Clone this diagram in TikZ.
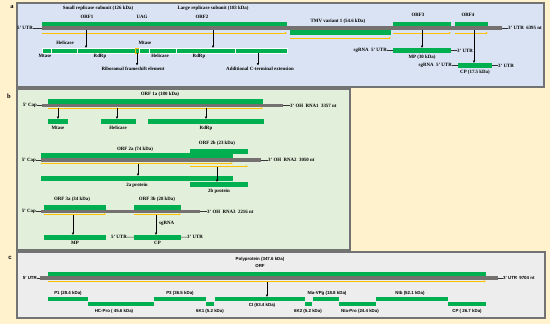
\documentclass[tikz,border=0pt]{standalone}
\usepackage{fontspec}
\setmainfont{Liberation Serif}
\setsansfont{Liberation Sans}
\usepackage{tikz}
\usetikzlibrary{arrows.meta,positioning}
\definecolor{cream}{HTML}{FFF2CC}
\definecolor{panelA}{HTML}{DAE3F3}
\definecolor{panelB}{HTML}{E2EFDA}
\definecolor{panelC}{HTML}{EDEDED}
\definecolor{vgreen}{HTML}{00B050}
\definecolor{ggray}{HTML}{767171}
\definecolor{orfyellow}{HTML}{FFC000}

\begin{document}
\begin{tikzpicture}[x=1pt, y=-1pt,
        panel/.style={draw=black!55, line width=1.2pt},
        gbar/.style={fill=vgreen, inner sep=0pt, outer sep=0pt, anchor=north west},
        seg/.style={gbar, draw=white, line width=0.4pt},
        gen/.style={fill=ggray, inner sep=0pt, outer sep=0pt, anchor=north west},
        wh/.style 2 args={minimum width=#1pt, minimum height=#2pt},
        orf/.style={draw=orfyellow, line width=0.8pt, -{Latex[length=2pt,width=2pt]}},
        arr/.style={-{Latex[length=2.5pt,width=2.5pt]}, line width=0.8pt},
        lead/.style={line width=0.5pt, black!80},
        lbl/.style={inner sep=0pt, font=\fontsize{4.9}{5.5}\selectfont\bfseries},
        lblc/.style={inner sep=0pt, font=\fontsize{4.4}{5}\selectfont\sffamily\bfseries},
        tag/.style={inner sep=0pt, font=\fontsize{6.5}{7}\selectfont\bfseries}]
        \useasboundingbox (0,0) rectangle (550,324);
        \fill[cream] (0,0) rectangle (550,324);
        \draw[panel, fill=panelA] (17,3) rectangle (544,87);
        \draw[panel, fill=panelB] (17,89) rectangle (350,250);
        \draw[panel, fill=panelC] (17,252) rectangle (545,318);
        \node[tag] (pa) at (12,7) {a};
        \node[tag] (pb) at (9,96) {b};
        \node[tag, font=\fontsize{6}{7}\selectfont\sffamily\bfseries] (pc) at (10,258) {c};

        % panel a
        \node[lbl] (small) at (98,8) {Small replicase subunit (126 kDa)};
        \node[lbl] (large) at (213,8) {Large replicase subunit (183 kDa)};
        \node[lbl] (orf1l) at (87,17) {ORF1};
        \node[lbl] (uag) at (142,17) {UAG};
        \node[lbl] (orf2l) at (202,17) {ORF2};
        \node[gen, wh={460}{4}] (gA) at (42,26) {};
        \node[gbar, wh={245}{4}] (orf12) at (42,22) {};
        \node[gbar, wh={101}{5}] (tmv) at (290,30) {};
        \node[lbl] (tmvl) at (338,21) {TMV variant 1 (54.6 kDa)};
        \node[gbar, wh={58}{4}] (orf3) at (393,22) {};
        \node[lbl] (orf3l) at (418,15) {ORF3};
        \node[gbar, wh={33}{4}] (orf4) at (455,22) {};
        \node[lbl] (orf4l) at (468,15) {ORF4};
        \draw[orf] ([yshift=-7pt]orf12.south west) -- ([yshift=-7pt]orf12.south east);
        \draw[orf] ([yshift=-3pt]tmv.south west) -- ([yshift=-3pt]tmv.south east);
        \draw[orf] ([yshift=-7pt]orf3.south west) -- ([yshift=-7pt]orf3.south east);
        \draw[orf] ([yshift=-7pt]orf4.south west) -- ([yshift=-7pt]orf4.south east);
        \node[lbl, anchor=east] (u5A) at (33,28) {5' UTR};
        \node[lbl, anchor=west] (u3A) at (508,28) {3' UTR\enspace 6395 nt};
        \draw[lead] (u5A) -- (gA.west);
        \draw[lead] (gA.east) -- (u3A);

        \node[seg, wh={9}{5}] (mtA1) at (42,48) {};
        \node[seg, wh={26}{5}, right=0pt of mtA1] (helA1) {};
        \node[seg, wh={58}{5}, right=0pt of helA1] (rdA1) {};
        \node[gbar, draw=orfyellow, line width=0.5pt, wh={4}{5}, right=0pt of rdA1] (fsA) {};
        \node[seg, wh={10}{5}, right=0pt of fsA] (mtA2) {};
        \node[seg, wh={27}{5}, right=0pt of mtA2] (helA2) {};
        \node[seg, wh={59}{5}, right=0pt of helA2] (rdA2) {};
        \node[seg, wh={52}{5}, right=0pt of rdA2] (extA) {};
        \node[lbl] (mtA1l) at (45,56) {Mtase};
        \node[lbl] (helA1l) at (65,43) {Helicase};
        \node[lbl] (rdA1l) at (100,56) {RdRp};
        \node[lbl] (mtA2l) at (145,43) {Mtase};
        \node[lbl] (helA2l) at (160,56) {Helicase};
        \node[lbl] (rdA2l) at (199,56) {RdRp};
        \node[lbl] (fsl) at (133,69) {Ribosomal frameshift element};
        \node[lbl] (extl) at (260,69) {Additional C-terminal extension};
        \coordinate (a1) at (86,30);
        \coordinate (a2) at (213,30);
        \coordinate (a4) at (258,53);
        \draw[arr] (a1) -- (a1 |- rdA1.north);
        \draw[arr] (a2) -- (a2 |- rdA2.north);
        \draw[arr, shorten >=1.5pt] (fsA.south) -- (fsA.south |- fsl.north);
        \draw[arr, shorten >=1.5pt] (a4) -- (a4 |- extl.north);

        \node[gbar, wh={58}{5}] (mpA) at (393,48) {};
        \node[lbl, anchor=east] (sgA1) at (387,50.5) {sgRNA\enspace 5' UTR};
        \node[lbl, anchor=west] (u3A1) at (457,50.5) {3' UTR};
        \node[lbl, below=1.8pt of mpA] (mpAl) {MP (30 kDa)};
        \draw[lead] (sgA1) -- (mpA.west);
        \draw[lead] (mpA.east) -- (u3A1);
        \node[gbar, wh={34}{5}] (cpA) at (458,63) {};
        \node[lbl, anchor=east] (sgA2) at (452,65.5) {sgRNA\enspace 5' UTR};
        \node[lbl, anchor=west] (u3A2) at (498,65.5) {3' UTR};
        \node[lbl, below=1.8pt of cpA] (cpAl) {CP (17.5 kDa)};
        \draw[lead] (sgA2) -- (cpA.west);
        \draw[lead] (cpA.east) -- (u3A2);
        \coordinate (a5) at (422,30);
        \coordinate (a6) at (474,30);
        \draw[arr] (a5) -- (a5 |- mpA.north);
        \draw[arr] (a6) -- (a6 |- cpA.north);

        % panel b, RNA1
        \node[gen, wh={241}{3}] (gB1) at (42,104) {};
        \node[gbar, wh={215}{5}] (orf1a) at (48,99) {};
        \node[lbl] (orf1al) at (160,94) {ORF 1a (180 kDa)};
        \draw[orf] ([yshift=-1.2pt]gB1.south west -| orf1a.west) -- ([yshift=-1.2pt]gB1.south west -| orf1a.east);
        \node[lbl, anchor=east] (capB1) at (37,105.5) {5' Cap};
        \node[lbl, anchor=west] (ohB1) at (290,105.5) {3' OH\enspace RNA1\enspace 3357 nt};
        \draw[lead] (capB1) -- (gB1.west);
        \draw[lead] (gB1.east) -- (ohB1);
        \node[gbar, wh={20}{5}] (mtB) at (48,119) {};
        \node[gbar, wh={35}{5}] (helB) at (101,119) {};
        \node[gbar, wh={116}{5}] (rdB) at (148,119) {};
        \node[lbl] (mtBl) at (58,128) {Mtase};
        \node[lbl] (helBl) at (118,128) {Helicase};
        \node[lbl] (rdBl) at (206,128) {RdRp};
        \foreach \x/\t in {58/mtB, 117/helB, 206/rdB}
          \draw[arr] (\x,108) -- (\x,108 |- \t.north);

        % panel b, RNA2
        \node[gen, wh={220}{4}] (gB2) at (41,158) {};
        \node[gbar, wh={192}{5}] (orf2a) at (41,153) {};
        \node[gbar, wh={58}{5}] (orf2b) at (190,149) {};
        \node[lbl] (orf2al) at (135,149) {ORF 2a (74 kDa)};
        \node[lbl] (orf2bl) at (217,143) {ORF 2b (23 kDa)};
        \draw[orf] ([yshift=-1.2pt]gB2.south west) -- ([yshift=-1.2pt]gB2.south west -| orf2a.east);
        \draw[orf] ([yshift=-4.2pt]gB2.south west -| orf2b.west) -- ([yshift=-4.2pt]gB2.south west -| orf2b.east);
        \node[lbl, anchor=east] (capB2) at (36,160) {5' Cap};
        \node[lbl, anchor=west] (ohB2) at (268,160) {3' OH\enspace RNA2\enspace 3050 nt};
        \draw[lead] (capB2) -- (gB2.west);
        \draw[lead] (gB2.east) -- (ohB2);
        \node[gbar, wh={192}{5}] (p2a) at (41,176) {};
        \node[gbar, wh={58}{4.5}] (p2b) at (190,182) {};
        \node[lbl, below=2pt of p2a] (p2al) {2a protein};
        \node[lbl, below=2pt of p2b] (p2bl) {2b protein};
        \coordinate (b1) at (138,163.5);
        \coordinate (b2) at (217,166.5);
        \draw[arr] (b1) -- (b1 |- p2a.north);
        \draw[arr] (b2) -- (b2 |- p2b.north);

        % panel b, RNA3
        \node[gen, wh={159}{3}] (gB3) at (41,210) {};
        \node[gbar, wh={62}{5}] (orf3a) at (44,205) {};
        \node[gbar, wh={47}{5}] (orf3b) at (134,205) {};
        \node[lbl] (orf3al) at (72,199) {ORF 3a (34 kDa)};
        \node[lbl] (orf3bl) at (157,199) {ORF 3b (28 kDa)};
        \draw[orf] ([yshift=-1.2pt]gB3.south west -| orf3a.west) -- ([yshift=-1.2pt]gB3.south west -| orf3a.east);
        \draw[orf] ([yshift=-1.2pt]gB3.south west -| orf3b.west) -- ([yshift=-1.2pt]gB3.south west -| orf3b.east);
        \node[lbl, anchor=east] (capB3) at (36,211.5) {5' Cap};
        \node[lbl, anchor=west] (ohB3) at (207,211.5) {3' OH\enspace RNA3\enspace 2216 nt};
        \draw[lead] (capB3) -- (gB3.west);
        \draw[lead] (gB3.east) -- (ohB3);
        \node[gbar, wh={62}{4.5}] (mpB) at (44,235) {};
        \node[gbar, wh={47}{4.5}] (cpB) at (134,235) {};
        \node[lbl, below=2pt of mpB] (mpBl) {MP};
        \node[lbl, below=2pt of cpB] (cpBl) {CP};
        \node[lbl, anchor=east] (u5B) at (127,237) {5' UTR};
        \node[lbl, anchor=west] (u3B) at (187,237) {3' UTR};
        \draw[lead] (u5B) -- (cpB.west);
        \draw[lead] (cpB.east) -- (u3B);
        \coordinate (b3) at (73,214.5);
        \coordinate (b4) at (156,214.5);
        \draw[arr] (b3) -- (b3 |- mpB.north);
        \draw[arr] (b4) -- (b4 |- cpB.north);
        \node[lbl, anchor=west] (sgB) at (159,223) {sgRNA};

        % panel c
        \node[lblc] (polyl) at (260,259) {Polyprotein (347.6 kDa)};
        \node[lblc] (orfcl) at (260,265.5) {ORF};
        \node[gen, wh={458}{4}] (gC) at (40,276) {};
        \node[gbar, wh={438}{4}] (poly) at (48,272) {};
        \draw[orf] ([yshift=-1.2pt]gC.south west -| poly.west) -- ([yshift=-1.2pt]gC.south west -| poly.east);
        \node[lblc, anchor=east] (u5C) at (37,278) {5' UTR};
        \node[lblc, anchor=west] (u3C) at (503,278) {3' UTR\enspace 9704 nt};
        \draw[lead] (u5C) -- (gC.west);
        \draw[lead] (gC.east) -- (u3C);
        \node[gbar, wh={40}{4}] (p1) at (48,297) {};
        \node[gbar, wh={66}{4}] (hcpro) at (88,302) {};
        \node[gbar, wh={52}{4}] (p3) at (154,297) {};
        \node[gbar, wh={8}{4}] (k1) at (206,302) {};
        \node[gbar, wh={90}{4}] (ci) at (215,297) {};
        \node[gbar, wh={7}{4}] (k2) at (305,302) {};
        \node[gbar, wh={26}{4}] (vpg) at (313,297) {};
        \node[gbar, wh={37}{4}] (nia) at (339,302) {};
        \node[gbar, wh={72}{4}] (nib) at (376,297) {};
        \node[gbar, wh={38}{4}] (cpC) at (448,302) {};
        \node[lblc] (p1l) at (68,293) {P1 (28.4 kDa)};
        \node[lblc] (hcprol) at (114,311) {HC-Pro ( 45.6 kDa)};
        \node[lblc] (p3l) at (180,293) {P3 (36.5 kDa)};
        \node[lblc] (k1l) at (210,311) {6K1 (5.2 kDa)};
        \node[lblc] (cil) at (262,305) {CI (63.4 kDa)};
        \node[lblc] (k2l) at (308,311) {6K2 (5.2 kDa)};
        \node[lblc] (vpgl) at (327,293) {NIa-VPg (18.8 kDa)};
        \node[lblc] (nial) at (360,311) {NIa-Pro (24.4 kDa)};
        \node[lblc] (nibl) at (410,293) {NIb (52.1 kDa)};
        \node[lblc] (cpCl) at (467,311) {CP ( 26.7 kDa)};
        \coordinate (c1) at (267,282);
        \draw[arr] (c1) -- (c1 |- ci.north);
\end{tikzpicture}
\end{document}
